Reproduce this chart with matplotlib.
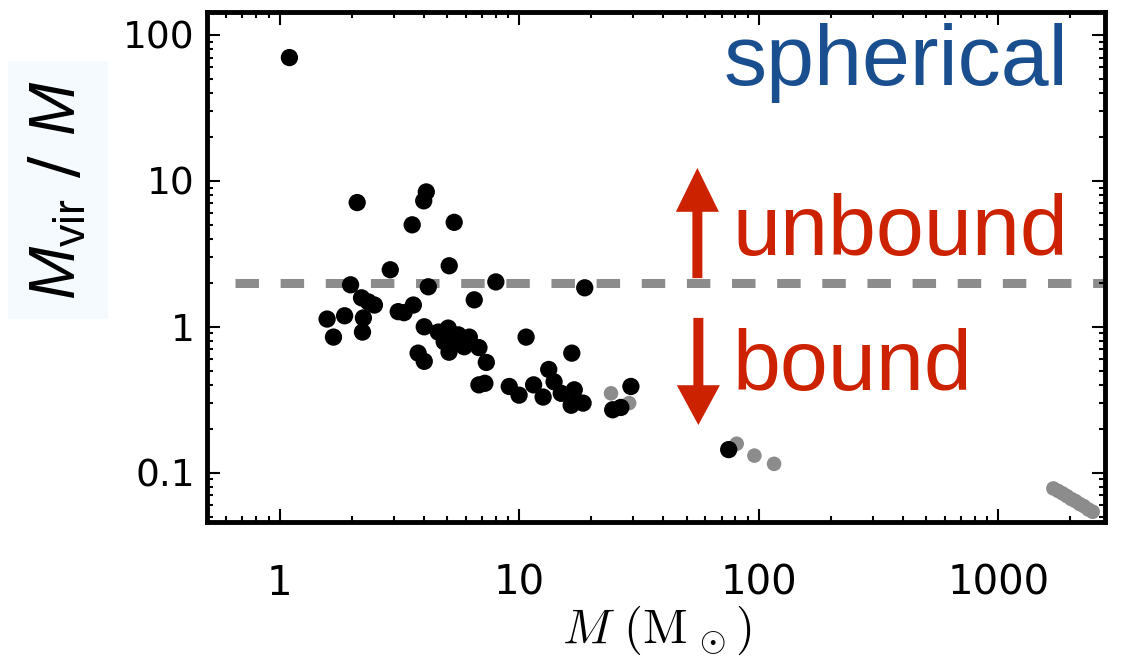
import matplotlib
matplotlib.use("Agg")
import matplotlib.pyplot as plt
import numpy as np

# black points: clumps
black_mass = [1.1, 2.11, 4.1, 4.0, 3.58, 5.36,
              2.90, 5.11, 1.98, 4.18, 8.0, 18.8, 6.5, 2.2, 2.35, 2.49,
              1.58, 1.87, 2.24, 1.68, 2.22, 3.13, 3.31, 3.62, 4.02, 5.06,
              4.87, 5.58, 5.1, 3.79, 4.02, 5.9, 6.8, 7.3, 6.8, 7.2,
              10.7, 9.1, 10.0, 11.5, 12.6, 13.3, 14.0, 15.0, 16.6, 17.0,
              16.5, 18.5, 24.6, 26.6, 29.3, 4.6, 5.3, 6.2, 75.0]
black_ratio = [70, 7.1, 8.4, 7.3, 5.0, 5.2,
               2.46, 2.62, 1.94, 1.88, 2.03, 1.85, 1.53, 1.58, 1.48, 1.41,
               1.13, 1.19, 1.15, 0.85, 0.92, 1.27, 1.25, 1.41, 1.0, 0.98,
               0.79, 0.88, 0.67, 0.66, 0.58, 0.73, 0.72, 0.57, 0.40, 0.41,
               0.85, 0.39, 0.34, 0.40, 0.33, 0.51, 0.42, 0.35, 0.66, 0.37,
               0.29, 0.30, 0.27, 0.28, 0.39, 0.92, 0.80, 0.85, 0.144]

# grey points
grey_mass = [24.2, 28.8, 81, 96, 116,
             1700, 1780, 1860, 1940, 2020, 2100, 2190, 2280, 2380, 2480]
grey_ratio = [0.35, 0.30, 0.158, 0.131, 0.115,
              0.078, 0.075, 0.072, 0.069, 0.066, 0.064, 0.061, 0.059, 0.056, 0.054]

threshold = 2.0
x_ticks = [1, 10, 100, 1000]
x_labels = ["1", "10", "100", "1000"]
y_ticks = [0.1, 1, 10, 100]
y_labels = ["0.1", "1", "10", "100"]

plt.rcParams["mathtext.fontset"] = "custom"
plt.rcParams["mathtext.rm"] = "Liberation Sans"
plt.rcParams["mathtext.it"] = "Liberation Sans:italic"

fig = plt.figure(figsize=(11.21, 6.59), dpi=100)
ax = fig.add_axes([0.185, 0.208, 0.801, 0.774])

ax.scatter(grey_mass, grey_ratio, s=110, color="#8c8c8c", edgecolors="none", zorder=2)
ax.scatter(black_mass, black_ratio, s=155, color="black", edgecolors="none", zorder=3)
ax.axhline(threshold, xmin=0.031, color="#8c8c8c", lw=6.5,
           linestyle=(0, (2.6, 2.4)), zorder=1)

ax.set_xscale("log")
ax.set_yscale("log")
ax.set_xlim(0.5, 2800)
ax.set_ylim(0.046, 144)
ax.set_xticks(x_ticks)
ax.set_xticklabels(x_labels)
ax.set_yticks(y_ticks)
ax.set_yticklabels(y_labels)

for sp in ax.spines.values():
    sp.set_linewidth(3.5)
ax.tick_params(which="both", direction="in", top=True, right=True)
ax.tick_params(which="major", length=9.5, width=1.5)
ax.tick_params(which="minor", length=4.5, width=1.5)
ax.tick_params(axis="x", labelsize=29, pad=30)
ax.tick_params(axis="y", labelsize=27, pad=9)

ax.set_xlabel(r"$M\ (\mathrm{M}_{\,\odot})$", fontsize=35, math_fontfamily="cm", labelpad=0)

fig.text(0.052, 0.712, r"$M_{\rm vir}$ / $M$", rotation=90, fontsize=46,
         ha="center", va="center",
         bbox=dict(facecolor="#f5faff", edgecolor="none", pad=14))

red = "#cc2200"
ax.text(0.959, 0.857, "spherical", transform=ax.transAxes, ha="right", va="baseline",
        fontsize=62, color="#1a4f8f", family="Liberation Sans")
ax.text(0.585, 0.524, "unbound", transform=ax.transAxes, ha="left", va="baseline",
        fontsize=62, color=red, family="Liberation Sans")
ax.text(0.585, 0.259, "bound", transform=ax.transAxes, ha="left", va="baseline",
        fontsize=62, color=red, family="Liberation Sans")

# arrows in axes fraction (vertical, so separate x/y scaling is fine)
ax.arrow(0.5457, 0.478, 0, 0.216, transform=ax.transAxes, width=0.0111,
         head_width=0.048, head_length=0.086, length_includes_head=True,
         color=red, lw=0)
ax.arrow(0.5468, 0.40, 0, -0.21, transform=ax.transAxes, width=0.0111,
         head_width=0.048, head_length=0.078, length_includes_head=True,
         color=red, lw=0)

fig.savefig("out.png", dpi=100)
